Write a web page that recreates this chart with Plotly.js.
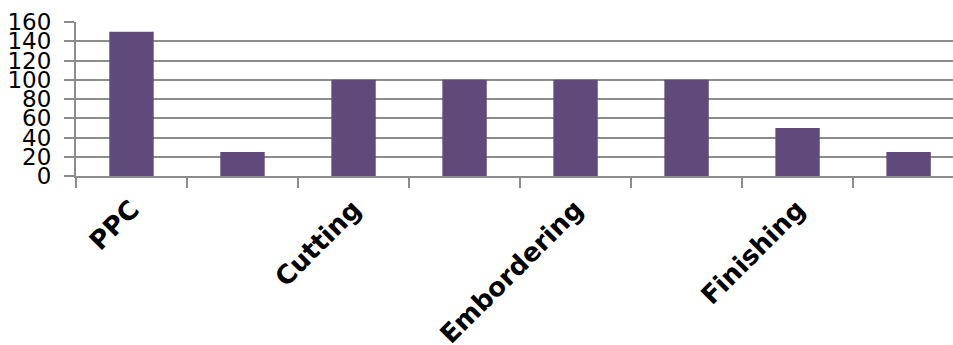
<!DOCTYPE html>
<html>
<head>
<meta charset="utf-8">
<script src="https://cdn.plot.ly/plotly-3.0.1.min.js"></script>
<style>html,body{margin:0;padding:0;background:#fff;}#chart{width:953px;height:345px;}</style>
</head>
<body>
<div id="chart"></div>
<script>
// Data
const positions = [0, 1, 2, 3, 4, 5, 6, 7];
const values = [150, 25, 100, 100, 100, 100, 50, 25];
const labelPositions = [0, 2, 4, 6];
const labels = ["PPC", "Cutting", "Embordering", "Finishing"];
const boundaryTicks = [-0.5, 0.5, 1.5, 2.5, 3.5, 4.5, 5.5, 6.5];
const yTicks = [0, 20, 40, 60, 80, 100, 120, 140, 160];

const gridColor = "#8c8c8c";
const xRange = [-0.5, 7.4];

const data = [
  {
    type: "bar",
    x: positions,
    y: values,
    width: 0.4,
    marker: { color: "#604A7B" },
    xaxis: "x",
    yaxis: "y",
    hoverinfo: "none"
  },
  {
    type: "scatter",
    x: labelPositions,
    y: labelPositions.map(() => null),
    xaxis: "x2",
    yaxis: "y",
    mode: "markers",
    hoverinfo: "none",
    showlegend: false
  }
];

const layout = {
  width: 953,
  height: 345,
  margin: { l: 76, r: 0, t: 22, b: 169 },
  paper_bgcolor: "#ffffff",
  plot_bgcolor: "#ffffff",
  showlegend: false,
  font: { family: "DejaVu Sans", color: "#000000" },
  xaxis: {
    type: "linear",
    range: xRange,
    tickmode: "array",
    tickvals: boundaryTicks,
    ticktext: boundaryTicks.map(() => ""),
    ticks: "outside",
    ticklen: 10,
    tickwidth: 2,
    tickcolor: gridColor,
    showgrid: false,
    zeroline: false,
    showline: true,
    linecolor: gridColor,
    linewidth: 2,
    fixedrange: true
  },
  xaxis2: {
    type: "linear",
    overlaying: "x",
    matches: "x",
    side: "bottom",
    range: xRange,
    tickmode: "array",
    tickvals: labelPositions,
    ticktext: labels,
    ticks: "",
    tickangle: -45,
    ticklabelstandoff: 12,
    tickfont: { family: "DejaVu Sans", size: 26, color: "#000000", weight: "bold" },
    showgrid: false,
    zeroline: false,
    showline: false
  },
  yaxis: {
    range: [0, 160],
    tickmode: "array",
    tickvals: yTicks,
    ticks: "outside",
    ticklen: 10,
    tickwidth: 2,
    tickcolor: gridColor,
    ticklabelstandoff: 8,
    tickfont: { family: "DejaVu Sans", size: 23, color: "#000000" },
    showgrid: true,
    gridcolor: gridColor,
    gridwidth: 2,
    zeroline: false,
    showline: true,
    linecolor: gridColor,
    linewidth: 2,
    fixedrange: true
  }
};

Plotly.newPlot("chart", data, layout, { staticPlot: true, displayModeBar: false });
</script>
</body>
</html>
